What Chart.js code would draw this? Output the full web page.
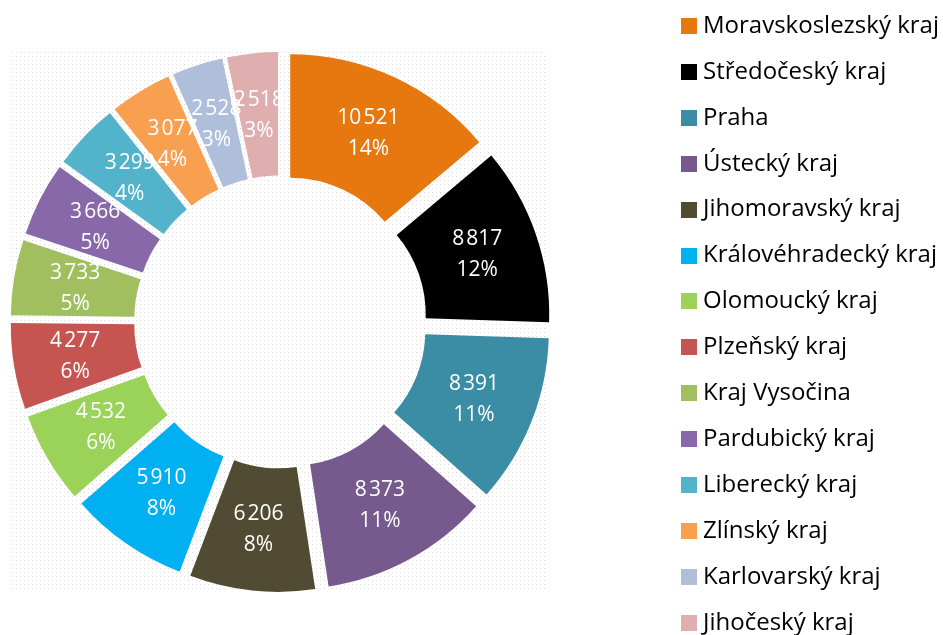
<!DOCTYPE html>
<html>
<head>
<meta charset="utf-8">
<script src="https://cdn.jsdelivr.net/npm/chart.js@4.4.0/dist/chart.umd.min.js"></script>
<style>
  html, body { margin: 0; padding: 0; background: #fff; }
  #wrap { position: relative; width: 943px; height: 635px; }
</style>
</head>
<body>
<div id="wrap"><canvas id="krajeChart"></canvas></div>
<script>
// Data
const regions = [
  "Moravskoslezský kraj", "Středočeský kraj", "Praha", "Ústecký kraj",
  "Jihomoravský kraj", "Královéhradecký kraj", "Olomoucký kraj", "Plzeňský kraj",
  "Kraj Vysočina", "Pardubický kraj", "Liberecký kraj", "Zlínský kraj",
  "Karlovarský kraj", "Jihočeský kraj"
];
const counts = [10521, 8817, 8391, 8373, 6206, 5910, 4532, 4277, 3733, 3666, 3299, 3077, 2528, 2518];
const colours = [
  "#E6780F", "#000000", "#3A8DA4", "#765A8E", "#514B33", "#00B0F0", "#9BD259",
  "#C65552", "#A1BF5F", "#8868A8", "#52B3CA", "#F99F50", "#AFBFDB", "#DFAFAF"
];

const EXPLODE = 23;          // posun výseče od středu
const FONT = "'Open Sans', sans-serif";
const total = counts.reduce((a, b) => a + b, 0);

// úzká mezera mezi tisíci (jako v Excelu)
function fmt(v) {
  return String(v).replace(/\B(?=(\d{3})+(?!\d))/g, "\u200A");
}

function dotPattern(ctx) {
  const c = document.createElement("canvas");
  c.width = 8; c.height = 8;
  const p = c.getContext("2d");
  p.fillStyle = "#ffffff";
  p.fillRect(0, 0, 8, 8);
  p.fillStyle = "#d4d4d4";
  p.fillRect(0, 0, 1, 1); p.fillRect(4, 4, 1, 1);
  p.fillStyle = "#e6e6e6";
  p.fillRect(4, 0, 1, 1); p.fillRect(0, 4, 1, 1);
  return ctx.createPattern(c, "repeat");
}

const explodePlugin = {
  id: "explode",
  beforeDatasetsDraw(chart) {
    // tečkované pozadí pod grafem
    const arc = chart.getDatasetMeta(0).data[0];
    const ctx = chart.ctx;
    ctx.save();
    ctx.fillStyle = dotPattern(ctx);
    ctx.fillRect(Math.round(arc.x - 270), Math.round(arc.y - 270), 537, 538);
    ctx.restore();
  },
  beforeDatasetDraw(chart, args) {
    const ctx = chart.ctx;
    args.meta.data.forEach((arc) => {
      const mid = (arc.startAngle + arc.endAngle) / 2;
      ctx.save();
      ctx.translate(Math.cos(mid) * EXPLODE, Math.sin(mid) * EXPLODE);
      arc.draw(ctx);
      ctx.restore();
    });
    return false;
  },
  afterDatasetsDraw(chart) {
    const ctx = chart.ctx;
    const meta = chart.getDatasetMeta(0);
    ctx.save();
    ctx.fillStyle = "#ffffff";
    ctx.font = "21px " + FONT;
    ctx.textAlign = "center";
    ctx.textBaseline = "middle";
    meta.data.forEach((arc, i) => {
      const mid = (arc.startAngle + arc.endAngle) / 2;
      const pos = arc.tooltipPosition();
      const x = pos.x + Math.cos(mid) * EXPLODE;
      const y = pos.y + Math.sin(mid) * EXPLODE;
      const pct = Math.round((counts[i] / total) * 100) + "%";
      ctx.fillText(fmt(counts[i]), x, y - 15);
      ctx.fillText(pct, x, y + 16);
    });
    ctx.restore();

    // legenda vpravo
    ctx.save();
    ctx.font = "24px " + FONT;
    ctx.textBaseline = "middle";
    ctx.textAlign = "left";
    chart.data.labels.forEach((label, i) => {
      const y = 26 + i * 45.9;
      ctx.fillStyle = chart.data.datasets[0].backgroundColor[i];
      ctx.fillRect(681, Math.round(y - 8), 16, 16);
      ctx.fillStyle = "#000000";
      ctx.fillText(label, 703, y);
    });
    ctx.restore();
  },
};

const ctx = document.getElementById("krajeChart").getContext("2d");
const krajeChart = new Chart(ctx, {
  type: "doughnut",
  data: {
    labels: regions,
    datasets: [
      {
        data: counts,
        backgroundColor: colours,
        borderWidth: 0,
      },
    ],
  },
  options: {
    responsive: true,
    maintainAspectRatio: false,
    animation: false,
    radius: 247,
    cutout: "50%",
    layout: {
      padding: { left: 0, top: 9, right: 382, bottom: 0 },
    },
    plugins: {
      legend: { display: false },
      tooltip: { enabled: false },
    },
  },
  plugins: [explodePlugin],
});
</script>
</body>
</html>
